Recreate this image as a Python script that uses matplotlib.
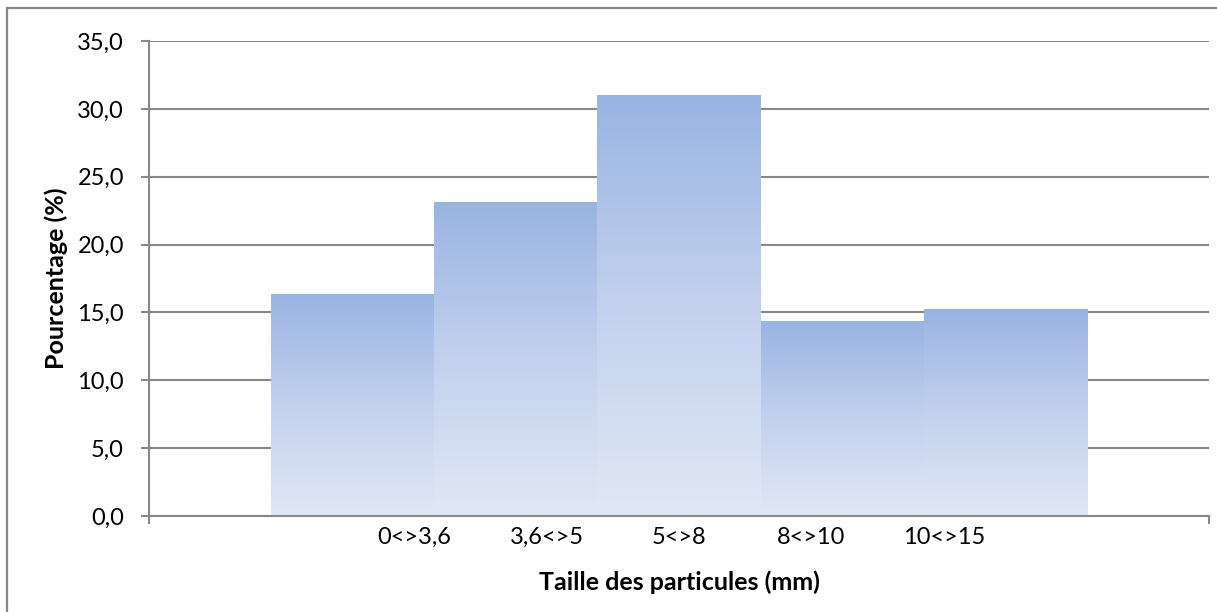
import numpy as np
import matplotlib
matplotlib.use("Agg")
import matplotlib.pyplot as plt
from matplotlib.colors import LinearSegmentedColormap
from matplotlib.patches import Rectangle

# data
categories = ["0<>3,6", "3,6<>5", "5<>8", "8<>10", "10<>15"]
values = [16.3, 23.1, 31.0, 14.3, 15.2]
yticks = [0, 5, 10, 15, 20, 25, 30, 35]

grey = "#888888"
plt.rcParams["font.family"] = ["Lato", "DejaVu Sans"]

fig = plt.figure(figsize=(12.17, 6.12), dpi=100)
ax = fig.add_axes([149 / 1217, 96 / 612, 1060 / 1217, 475 / 612])

# outer chart frame (only left and top edges are visible in the crop)
fig.patches.append(Rectangle((7 / 1217, -0.1), 1.2, (612 - 8) / 612 + 0.1,
                             transform=fig.transFigure, fill=False,
                             edgecolor=grey, lw=1.6))

xpos = np.arange(len(values))
bars = ax.bar(xpos, values, width=1.0, align="edge", color="none", zorder=2)

cmap = LinearSegmentedColormap.from_list("grad", ["#E1E8F5", "#C3D1EE", "#99B4E2"])
grad = np.linspace(0, 1, 256).reshape(-1, 1)
for b in bars:
    x0, w, h = b.get_x(), b.get_width(), b.get_height()
    ax.imshow(grad, cmap=cmap, origin="lower", aspect="auto",
              extent=(x0, x0 + w, 0, h), zorder=2, interpolation="bilinear")

xmin, xmax = -0.75, len(values) + 0.75
ax.set_xlim(xmin, xmax)
ax.set_ylim(0, 35)

ax.set_yticks(yticks)
ax.set_yticklabels([f"{v:.1f}".replace(".", ",") for v in yticks])
ax.yaxis.grid(True, color=grey, lw=1.5)
ax.set_axisbelow(True)

# category labels spread over the axis, ticks only at the axis ends
lab_pos = [xmin + (xmax - xmin) * k / 8 for k in range(2, 7)]
ax.set_xticks(lab_pos)
ax.set_xticklabels(categories)
ax.set_xticks([xmin, xmax], minor=True)
ax.tick_params(axis="x", which="major", length=0, pad=8, labelsize=17)
ax.tick_params(axis="x", which="minor", length=6, width=1.5, color=grey, direction="out")
ax.tick_params(axis="y", length=6, width=1.5, color=grey, pad=12, labelsize=17)

for s in ["top", "right"]:
    ax.spines[s].set_visible(False)
for s in ["left", "bottom"]:
    ax.spines[s].set_color(grey)
    ax.spines[s].set_linewidth(1.5)

ax.set_xlabel("Taille des particules (mm)", fontsize=18, fontweight="bold", va="center")
ax.xaxis.set_label_coords(0.5, -0.139)
ax.set_ylabel("Pourcentage (%)", fontsize=18, fontweight="bold", va="center")
ax.yaxis.set_label_coords(-0.088, 0.5)

fig.savefig("out.png", dpi=100)
